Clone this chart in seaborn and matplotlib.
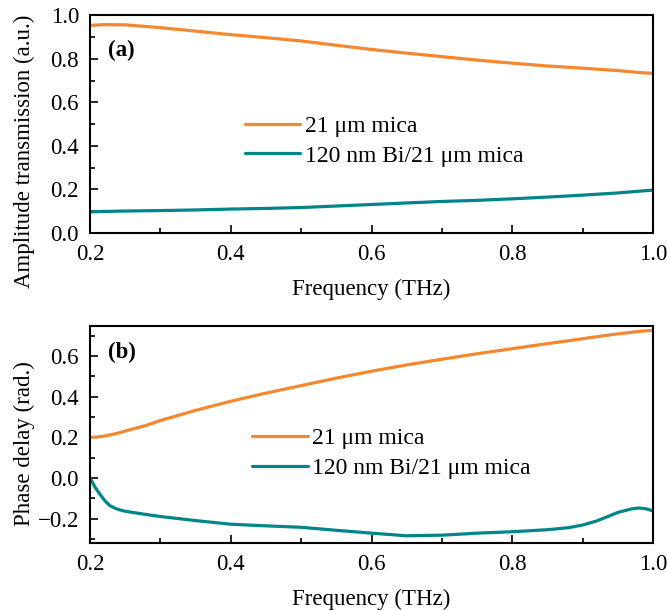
import matplotlib
matplotlib.use("Agg")
import matplotlib.pyplot as plt
import seaborn as sns
import pandas as pd
from matplotlib.ticker import MultipleLocator

sns.set_theme(style="ticks")
plt.rcParams['font.family'] = ['Liberation Serif', 'DejaVu Serif']
plt.rcParams['mathtext.fontset'] = 'stix'
for k in ['text.color', 'axes.labelcolor', 'xtick.color', 'ytick.color', 'axes.edgecolor']:
    plt.rcParams[k] = 'black'

labels = ["21 μm mica", "120 nm Bi/21 μm mica"]
colors = ["#F5872F", "#00868A"]

# Panel (a): amplitude transmission
freq_a = [0.20, 0.22, 0.25, 0.30, 0.35, 0.40, 0.45, 0.50, 0.55, 0.60, 0.65, 0.70,
          0.75, 0.80, 0.85, 0.90, 0.95, 0.98, 1.00]
amp_mica = [0.953, 0.957, 0.956, 0.943, 0.927, 0.911, 0.897, 0.882, 0.862, 0.843, 0.826, 0.810,
            0.794, 0.780, 0.767, 0.757, 0.746, 0.737, 0.733]
amp_bi = [0.097, 0.099, 0.101, 0.103, 0.106, 0.110, 0.113, 0.117, 0.124, 0.131, 0.138, 0.145,
          0.150, 0.157, 0.165, 0.174, 0.184, 0.192, 0.197]

# Panel (b): phase delay
freq_b = [0.20, 0.207, 0.214, 0.221, 0.228, 0.236, 0.243, 0.25, 0.257, 0.27, 0.28, 0.30,
          0.35, 0.40, 0.45, 0.50, 0.55, 0.60, 0.65, 0.70, 0.75, 0.80, 0.85, 0.88,
          0.90, 0.92, 0.95, 0.97, 0.98, 0.99, 1.00]
ph_mica = [0.200, 0.201, 0.203, 0.207, 0.212, 0.218, 0.224, 0.231, 0.238, 0.250, 0.259, 0.283,
           0.333, 0.378, 0.418, 0.455, 0.492, 0.526, 0.557, 0.585, 0.612, 0.637, 0.662, 0.676,
           0.686, 0.696, 0.710, 0.718, 0.722, 0.725, 0.727]
ph_bi = [0.000, -0.045, -0.080, -0.112, -0.136, -0.150, -0.158, -0.164, -0.168, -0.175, -0.180, -0.190,
         -0.210, -0.228, -0.236, -0.243, -0.258, -0.272, -0.285, -0.282, -0.272, -0.265, -0.255, -0.245,
         -0.232, -0.212, -0.170, -0.152, -0.148, -0.152, -0.162]

df_a = pd.concat([
    pd.DataFrame({"f": freq_a, "v": amp_mica, "s": labels[0]}),
    pd.DataFrame({"f": freq_a, "v": amp_bi, "s": labels[1]}),
])
df_b = pd.concat([
    pd.DataFrame({"f": freq_b, "v": ph_mica, "s": labels[0]}),
    pd.DataFrame({"f": freq_b, "v": ph_bi, "s": labels[1]}),
])

fig = plt.figure(figsize=(6.67, 6.10), dpi=100)
ax1 = fig.add_axes([0.135, 0.618, 0.844, 0.357])
ax2 = fig.add_axes([0.135, 0.110, 0.844, 0.356])

fs = 16.5
pal = dict(zip(labels, colors))
for ax, df, ylab, tag, tag_y, ylim, leg_anchor, lab_y in [
    (ax1, df_a, "Amplitude transmission (a.u.)", "(a)", 0.84, (0, 1.0), (0.275, 0.54), 0.375),
    (ax2, df_b, "Phase delay (rad.)", "(b)", 0.875, (-0.32, 0.75), (0.288, 0.53), 0.456),
]:
    sns.lineplot(data=df, x="f", y="v", hue="s", palette=pal, linewidth=2.3,
                 ax=ax, legend=True, sort=False)
    ax.set_xlim(0.2, 1.0)
    ax.set_ylim(*ylim)
    ax.set_xlabel("Frequency (THz)", fontsize=fs)
    ax.set_ylabel(ylab, fontsize=fs)
    ax.xaxis.set_major_locator(MultipleLocator(0.2))
    ax.xaxis.set_minor_locator(MultipleLocator(0.1))
    ax.yaxis.set_major_locator(MultipleLocator(0.2))
    ax.yaxis.set_minor_locator(MultipleLocator(0.1))
    ax.tick_params(axis="both", which="both", direction="in", labelsize=fs, width=1.2,
                   color="black", labelcolor="black")
    ax.tick_params(which="major", length=6)
    ax.tick_params(which="minor", length=3.5)
    ax.tick_params(axis="x", pad=8)
    ax.tick_params(axis="y", pad=8)
    for sp in ax.spines.values():
        sp.set_linewidth(1.5)
        sp.set_color("black")
    ax.text(0.032, tag_y, tag, transform=ax.transAxes, fontsize=fs,
            fontweight="bold", va="center", ha="left", color="black")
    leg = ax.legend(loc="upper left", bbox_to_anchor=leg_anchor, frameon=False,
                    fontsize=17, handlelength=2.35, handletextpad=0.2,
                    labelspacing=0.35, borderaxespad=0, borderpad=0)
    for t in leg.get_texts():
        t.set_color("black")
    for line in leg.get_lines():
        line.set_linewidth(2.3)
    ax.yaxis.set_label_coords(-0.098, lab_y)
    ax.xaxis.set_label_coords(0.5, -0.21)

fig.savefig("out.png", dpi=100)
